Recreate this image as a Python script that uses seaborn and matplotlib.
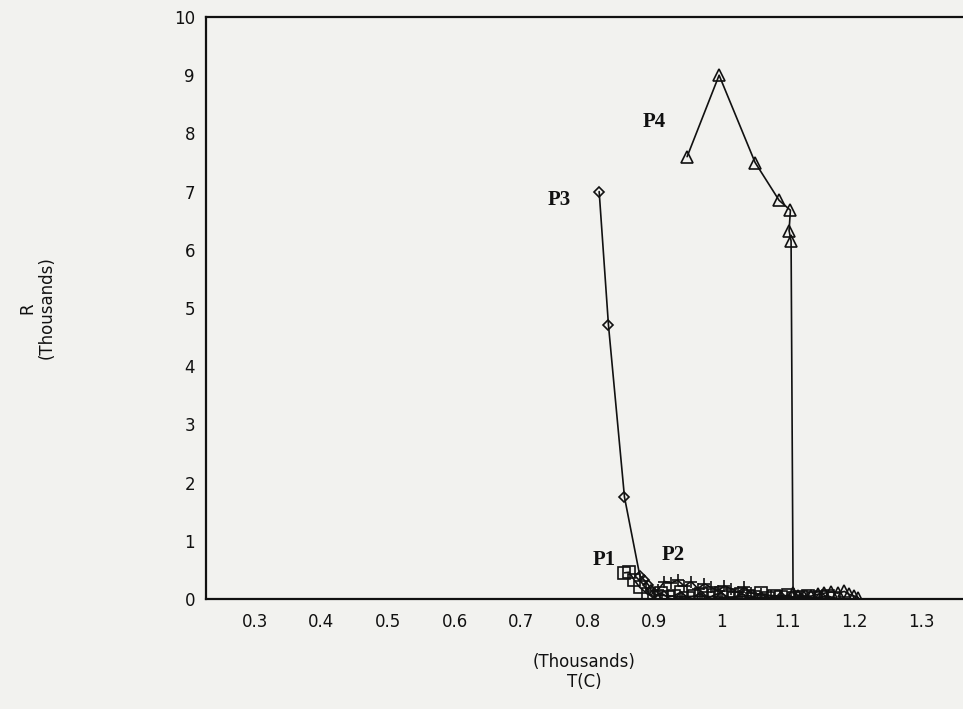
import matplotlib
matplotlib.use("Agg")
import matplotlib.pyplot as plt
import seaborn as sns
import pandas as pd

# Temperature T (thousands of deg C) and resistance R (thousands of ohm)
p1_t = [0.855, 0.862, 0.870, 0.878, 0.890, 0.900, 0.910, 0.920, 0.930, 0.940, 0.950, 0.960,
        0.970, 0.980, 0.990, 1.000, 1.010, 1.020, 1.030, 1.040, 1.050, 1.060, 1.070, 1.080,
        1.090, 1.100, 1.110, 1.120, 1.130, 1.140, 1.150, 1.160, 1.170]
p1_r = [0.45, 0.46, 0.32, 0.20, 0.08, 0.04, 0.10, 0.03, 0.06, 0.12, 0.02, 0.05,
        0.09, 0.01, 0.07, 0.11, 0.03, 0.02, 0.08, 0.06, 0.04, 0.10, 0.01, 0.05,
        0.03, 0.07, 0.02, 0.04, 0.06, 0.01, 0.03, 0.05, 0.02]

p2_t = [0.905, 0.915, 0.925, 0.935, 0.945, 0.955, 0.965, 0.975, 0.985, 0.995, 1.005, 1.015,
        1.025, 1.035, 1.045, 1.060, 1.075, 1.090, 1.105]
p2_r = [0.15, 0.30, 0.28, 0.32, 0.22, 0.30, 0.18, 0.26, 0.20, 0.14, 0.22, 0.18,
        0.12, 0.20, 0.10, 0.08, 0.06, 0.05, 0.04]

p3_t = [0.817, 0.831, 0.855, 0.878, 0.885, 0.891, 0.895, 0.900, 0.915, 0.940, 0.970,
        1.000, 1.030, 1.060, 1.090, 1.120, 1.150]
p3_r = [7.00, 4.70, 1.75, 0.40, 0.32, 0.24, 0.15, 0.08, 0.06, 0.04, 0.05,
        0.03, 0.04, 0.02, 0.03, 0.02, 0.03]

p4_t = [0.949, 0.997, 1.051, 1.087, 1.104, 1.102, 1.105, 1.108, 1.115, 1.125, 1.135,
        1.145, 1.155, 1.165, 1.175, 1.185, 1.192, 1.200, 1.206]
p4_r = [7.60, 9.00, 7.50, 6.85, 6.68, 6.33, 6.15, 0.10, 0.06, 0.04, 0.05,
        0.08, 0.10, 0.12, 0.10, 0.13, 0.08, 0.05, 0.02]

x_ticks = [0.3, 0.4, 0.5, 0.6, 0.7, 0.8, 0.9, 1.0, 1.1, 1.2, 1.3]
x_tick_labels = ["0.3", "0.4", "0.5", "0.6", "0.7", "0.8", "0.9", "1", "1.1", "1.2", "1.3"]
y_ticks = [0, 1, 2, 3, 4, 5, 6, 7, 8, 9, 10]

series = [("P1", p1_t, p1_r, "s", 8), ("P2", p2_t, p2_r, "+", 9),
          ("P3", p3_t, p3_r, "D", 5), ("P4", p4_t, p4_r, "^", 8)]
labels = {"P1": (0.825, 0.67), "P2": (0.928, 0.76), "P3": (0.757, 6.86), "P4": (0.900, 8.20)}

sns.set_theme(style="white")
plt.rcParams["font.family"] = ["DejaVu Sans"]

paper = "#f2f2ef"
fig = plt.figure(figsize=(9.63, 7.09), dpi=100, facecolor=paper)
ax = fig.add_axes([206 / 963, 110 / 709, 1 - 206 / 963, 582 / 709])
ax.set_facecolor(paper)

for name, t, r, mk, ms in series:
    df = pd.DataFrame({"T": t, "R": r})
    sns.lineplot(data=df, x="T", y="R", sort=False, estimator=None, ax=ax,
                 color="#111111", linewidth=1.2, marker=mk, markersize=ms,
                 markerfacecolor="none", markeredgecolor="#111111",
                 markeredgewidth=1.2)
    lx, ly = labels[name]
    ax.text(lx, ly, name, ha="center", va="center", fontsize=15, fontweight="bold",
            family="Liberation Serif", color="#111111")

ax.set_xlim(0.227, 1.363)
ax.set_ylim(0, 10)
ax.set_xticks(x_ticks)
ax.set_xticklabels(x_tick_labels)
ax.set_yticks(y_ticks)
ax.tick_params(axis="both", direction="in", length=8, width=1.3, colors="#111111",
               labelsize=12, pad=8)
ax.tick_params(axis="x", pad=10)

for side in ["left", "bottom", "top"]:
    ax.spines[side].set_visible(True)
    ax.spines[side].set_color("#111111")
    ax.spines[side].set_linewidth(1.6)
ax.spines["right"].set_visible(False)

ax.set_xlabel("(Thousands)\nT(C)", fontsize=12, color="#111111", labelpad=16,
              linespacing=1.1)
ax.set_ylabel("R\n(Thousands)", fontsize=12, color="#111111", labelpad=85,
              linespacing=1.1)

fig.savefig("out.png", dpi=100, facecolor=paper)
